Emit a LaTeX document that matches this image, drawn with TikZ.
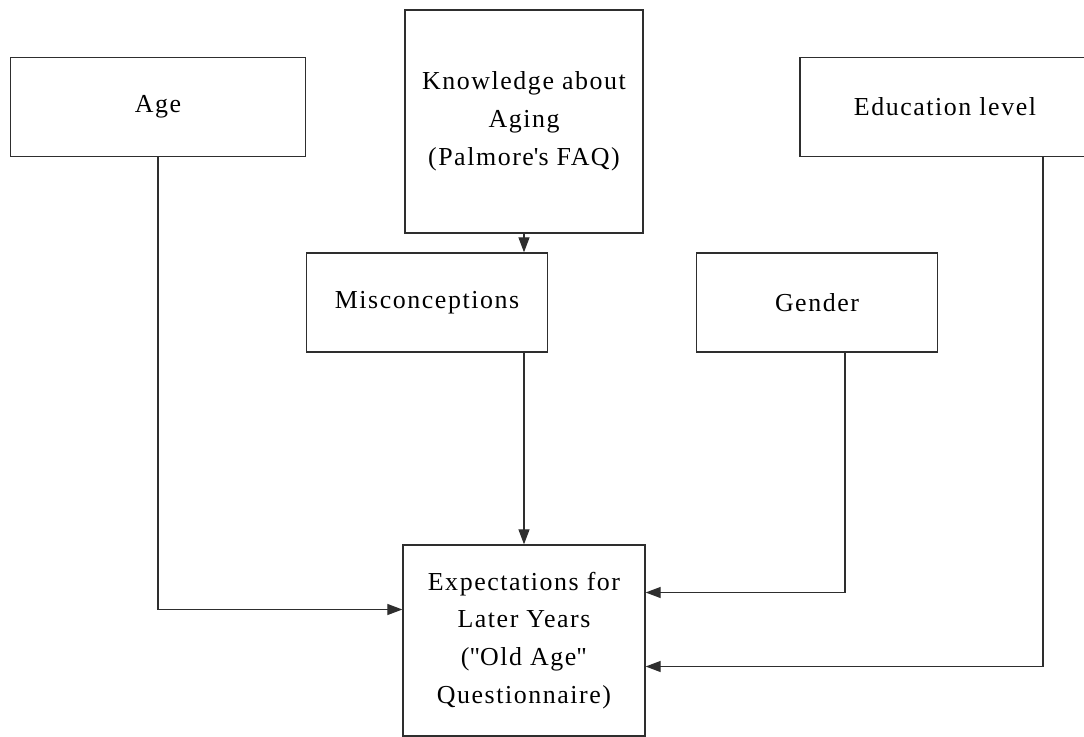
\documentclass[tikz,border=0pt]{standalone}
\usepackage{fontspec}
\setmainfont{Liberation Serif}[LetterSpace=6]
\usetikzlibrary{arrows.meta}
\definecolor{boxline}{HTML}{2E2E2E}
\tikzset{
  factor/.style={draw=boxline, line width=1.3bp, align=center, inner sep=0pt,
                 font=\fontsize{26}{38}\selectfont, minimum width=#1, minimum height=99bp},
  factor/.default=241bp,
  flow/.style={->, draw=boxline, line width=1.2bp, >={Triangle[length=15bp,width=11bp]}},
}
\begin{document}
\begin{tikzpicture}[x=1bp,y=-1bp]
  \useasboundingbox (0,0) rectangle (1084,737);
  % top row
  \node[factor=295bp] (age) at (158,107) {Age};
  \node[factor=238bp, minimum height=223bp] (know) at (524,121.5) {Knowledge about\\ Aging\\ (Palmore\textquotesingle s FAQ)};
  \node[factor=290bp] (edu) at (945,107) {Education level};
  % middle row
  \node[factor] (misc) at (427,302.5) {Misconceptions};
  \node[factor] (gender) at (817,302.5) {Gender};
  % outcome
  \node[factor=242bp, minimum height=191bp] (expect) at (524,640.5) {Expectations for\\ Later Years\\ (\textquotedbl Old Age\textquotedbl\\ Questionnaire)};
  \draw[flow] (know.south) -- (know.south |- misc.north);
  \draw[flow] (expect.north |- misc.south) -- (expect.north);
  \draw[flow] (age.south) |- ([yshift=31bp]expect.west);
  \draw[flow] ([xshift=28bp]gender.south) |- ([yshift=48bp]expect.east);
  \draw[flow] ([xshift=98bp]edu.south) |- ([yshift=-26bp]expect.east);
\end{tikzpicture}
\end{document}
